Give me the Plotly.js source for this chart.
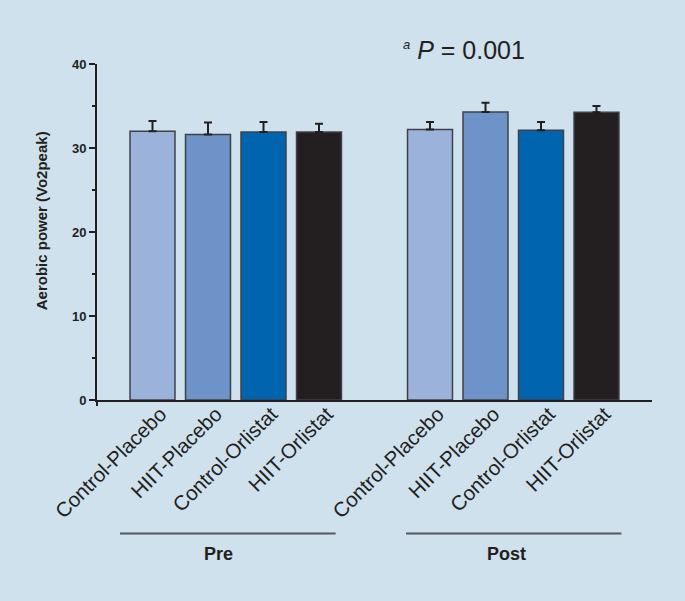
<!DOCTYPE html>
<html>
<head>
<meta charset="utf-8">
<script src="https://cdn.plot.ly/plotly-3.0.1.min.js"></script>
<style>
  html, body { margin: 0; padding: 0; background: #cfe1ed; }
  #chart { width: 685px; height: 601px; }
</style>
</head>
<body>
<div id="chart"></div>
<script>
var groups = ['Pre', 'Post'];
var conditions = ['Control-Placebo', 'HIIT-Placebo', 'Control-Orlistat', 'HIIT-Orlistat'];
var preValues = [32.0, 31.6, 31.9, 31.9];
var preErr = [1.2, 1.45, 1.2, 1.0];
var postValues = [32.2, 34.3, 32.1, 34.25];
var postErr = [0.9, 1.1, 1.0, 0.75];
var yTicks = [0, 10, 20, 30, 40];

var barColors = ['#9bb3db', '#6d93c8', '#0065ae', '#231f20'];
var ink = '#231f20';
var font = 'Arial, "Liberation Sans", sans-serif';

var series = [preValues, postValues];
var errs = [preErr, postErr];

// each group takes 4 slots plus one empty slot
function slotsFor(g) {
    return conditions.map(function (c, i) { return g * 5 + i; });
}

var data = groups.map(function (g, gi) {
    return {
        type: 'bar',
        name: g,
        x: slotsFor(gi),
        y: series[gi],
        width: 0.81,
        marker: {
            color: barColors,
            line: { color: '#404048', width: 1.5 }
        },
        error_y: {
            type: 'data',
            symmetric: false,
            array: errs[gi],
            arrayminus: conditions.map(function () { return 0; }),
            color: ink,
            thickness: 2,
            width: 4
        },
        hoverinfo: 'x+y'
    };
});

var tickvals = [].concat(slotsFor(0), slotsFor(1));
var ticktext = [].concat(conditions, conditions);

var layout = {
    width: 685,
    height: 601,
    margin: { l: 97, r: 33, t: 64, b: 201 },
    paper_bgcolor: '#cfe1ed',
    plot_bgcolor: '#cfe1ed',
    showlegend: false,
    barmode: 'overlay',
    font: { family: font, color: ink },
    xaxis: {
        range: [-1, 9],
        tickvals: tickvals,
        ticktext: ticktext,
        tickangle: -45,
        ticks: '',
        ticklabelshift: 8,
        ticklabelstandoff: -8,
        showgrid: false,
        zeroline: false,
        showline: true,
        linecolor: ink,
        linewidth: 2,
        tickfont: { family: font, size: 20.5, color: ink }
    },
    yaxis: {
        range: [0, 40],
        tickvals: yTicks,
        ticks: 'outside',
        ticklen: 6,
        tickwidth: 1.5,
        tickcolor: ink,
        minor: { dtick: 5, ticks: 'outside', ticklen: 3, tickwidth: 1.5, tickcolor: ink, showgrid: false },
        showgrid: false,
        zeroline: false,
        showline: true,
        linecolor: ink,
        linewidth: 2,
        tickfont: { family: font, size: 13, color: ink, weight: 'bold' }
    },
    shapes: [
        { type: 'line', xref: 'paper', yref: 'paper', x0: 0, x1: 0, y0: 0, y1: -0.018,
          line: { color: ink, width: 2 } },
        { type: 'line', xref: 'paper', yref: 'paper', x0: 0.0414, x1: 0.430, y0: -0.397, y1: -0.397,
          line: { color: '#55595f', width: 2 } },
        { type: 'line', xref: 'paper', yref: 'paper', x0: 0.5568, x1: 0.945, y0: -0.397, y1: -0.397,
          line: { color: '#55595f', width: 2 } }
    ],
    annotations: [
        { xref: 'paper', yref: 'paper', x: -0.0996, y: 0.534, xanchor: 'center', yanchor: 'middle',
          textangle: -90, showarrow: false,
          text: 'Aerobic power (Vo2peak)', font: { family: font, size: 15, color: ink, weight: 'bold' } },
        { xref: 'paper', yref: 'paper', x: 0.219, y: -0.457, xanchor: 'center', yanchor: 'middle', showarrow: false,
          text: groups[0], font: { family: font, size: 18, color: ink, weight: 'bold' } },
        { xref: 'paper', yref: 'paper', x: 0.737, y: -0.457, xanchor: 'center', yanchor: 'middle', showarrow: false,
          text: groups[1], font: { family: font, size: 18, color: ink, weight: 'bold' } },
        { xref: 'paper', yref: 'paper', x: 0.547, y: 1.042, xanchor: 'left', yanchor: 'middle', showarrow: false,
          text: '<sup><span style="font-size:13px"><i>a</i></span></sup> <i>P</i> = 0.001',
          font: { family: font, size: 25, color: ink } }
    ]
};

Plotly.newPlot('chart', data, layout, { displayModeBar: false, staticPlot: true });
</script>
</body>
</html>
